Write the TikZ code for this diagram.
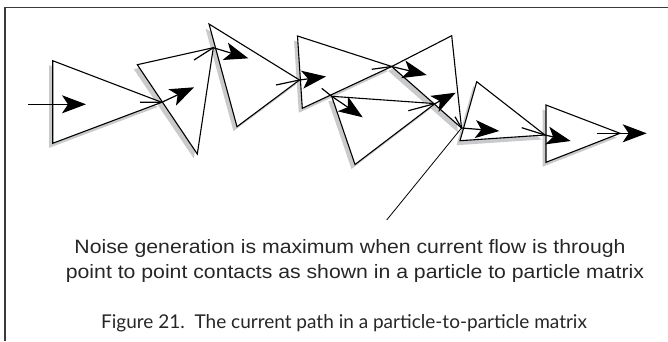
\documentclass[tikz,border=0pt]{standalone}
\usepackage{fontspec}
\setmainfont{Liberation Sans}
\newfontfamily\capfont{Lato}
\usetikzlibrary{arrows.meta,calc}
\definecolor{shadowgray}{HTML}{C9CACC}
\definecolor{framegray}{HTML}{3A3A3A}
\tikzset{
  grain/.style={draw=black, fill=white, line width=1.1pt, line join=miter},
  grainshadow/.style={fill=shadowgray, draw=none},
  flow/.style={line width=1.2pt, -{Stealth[length=24pt, width=18pt, inset=6pt]}},
  pointer/.style={line width=0.8pt},
  frameline/.style={draw=framegray, line width=1.7pt},
  note/.style={font=\fontsize{19.3}{25}\selectfont, text=black!85},
  caption/.style={font=\capfont\fontsize{19}{23}\selectfont, text=black!85}
}
\begin{document}
\begin{tikzpicture}[x=1pt, y=-1pt]
\useasboundingbox (0,0) rectangle (668,341);
% frame
\draw[frameline] (5,341) -- (5,7.5) -- (668,7.5);
% grain vertices
\coordinate (a1) at (52.7,60.7);  \coordinate (a2) at (52.7,143.3); \coordinate (a3) at (161.7,102.3);
\coordinate (b1) at (137.3,64.7); \coordinate (b2) at (213.3,47.7); \coordinate (b3) at (197.3,154);
\coordinate (c1) at (209,24);     \coordinate (c2) at (299.5,80);   \coordinate (c3) at (237,126.7);
\coordinate (d1) at (297.5,36);   \coordinate (d2) at (302.3,108.3);\coordinate (d3) at (391.7,66.5);
\coordinate (e1) at (451.7,35.7); \coordinate (e2) at (461.5,128);
\coordinate (f1) at (331.7,96.3); \coordinate (f2) at (355,164.5);  \coordinate (f3) at (435,103.6);
\coordinate (g1) at (476.7,81.7); \coordinate (g2) at (460,140.7);  \coordinate (g3) at (545,135);
\coordinate (h1) at (546,105);    \coordinate (h2) at (546,162.3);  \coordinate (h3) at (620,133.3);
% shadows
\foreach \p/\q/\r in {a1/a2/a3, b1/b2/b3, c1/c2/c3, d1/d2/d3, d3/e1/e2, f1/f2/f3, g1/g2/g3, h1/h2/h3}{
  \fill[grainshadow] ($(\p)+(-3.5,4.5)$) -- ($(\q)+(-3.5,4.5)$) -- ($(\r)+(-3.5,4.5)$) -- cycle;
}
% grains
\foreach \p/\q/\r in {a1/a2/a3, b1/b2/b3, c1/c2/c3, d1/d2/d3, d3/e1/e2, f1/f2/f3, g1/g2/g3, h1/h2/h3}{
  \filldraw[grain] (\p) -- (\q) -- (\r) -- cycle;
}
% current path
\coordinate (s1) at (28.3,104.3);  \coordinate (t1) at (86,104.3);
\coordinate (s2) at (140,102.3);   \coordinate (t2) at (194,87.3);
\coordinate (s3) at (194,60);      \coordinate (t3) at (248.3,58.3);
\coordinate (s4) at (276,85);      \coordinate (t4) at (326,76.5);
\coordinate (s5) at (321.7,88.3);  \coordinate (t5) at (362.7,117.3);
\coordinate (s6) at (371.7,69.3);  \coordinate (t6) at (426.7,75);
\coordinate (s7) at (408.3,110.7); \coordinate (t7) at (455.7,92.7);
\coordinate (s8) at (455,116.7);   \coordinate (t8) at (499.3,131);
\coordinate (s9) at (521.7,127.7); \coordinate (t9) at (570.7,141);
\coordinate (s10) at (596.7,133.3);\coordinate (t10) at (646.7,133.3);
\draw[flow] (s1) -- (t1);
\draw[flow] (s2) -- (a3) -- (t2);
\draw[flow] (s3) -- (b2) -- (t3);
\draw[flow] (s4) -- (c2) -- (t4);
\draw[flow] (s5) -- (f1) -- (t5);
\draw[flow] (s6) -- (d3) -- (t6);
\draw[flow] (s7) -- (f3) -- (t7);
\draw[flow] (s8) -- (e2) -- (t8);
\draw[flow] (s9) -- (g3) -- (t9);
\draw[flow] (s10) -- (t10);
% annotation
\coordinate (p1) at (386.7,220);
\draw[pointer] (e2) -- (p1);
\node[note, anchor=base] (n1) at (350,253) {\scalebox{1.1}[1]{Noise generation is maximum when current flow is through}};
\node[note, anchor=base] (n2) at (355,278) {\scalebox{1.1}[1]{point to point contacts as shown in a particle to particle matrix}};
\node[caption, anchor=base] (cap) at (344,328) {Figure 21.\ \ The current path in a particle-to-particle matrix};
\end{tikzpicture}
\end{document}
